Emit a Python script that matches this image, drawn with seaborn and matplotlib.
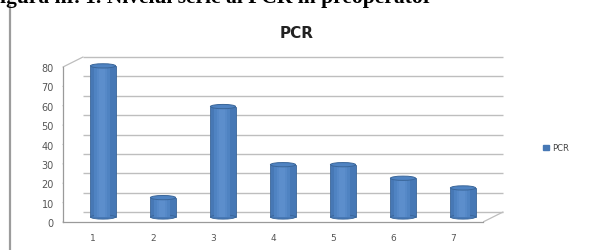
import matplotlib.pyplot as plt
import matplotlib.transforms as mtransforms
from matplotlib.patches import Ellipse
from matplotlib.lines import Line2D
import seaborn as sns

# values
categories = ["1", "2", "3", "4", "5", "6", "7"]
pcr_values = [78, 10, 57, 27, 27, 20, 15]
y_ticks = [0, 10, 20, 30, 40, 50, 60, 70, 80]
series_name = "PCR"
caption = "Figura nr. 1. Nivelul seric al PCR în preoperator"

sns.set_style("white")
plt.rcParams["font.family"] = ["DejaVu Sans"]

fig = plt.figure(figsize=(5.9, 2.51), dpi=100)
W, H = 590, 251
# front plane of the 3D box
ax = fig.add_axes([63 / W, (H - 223) / H, 420 / W, 155 / H])

bar_color = "#4778B5"
sns.barplot(x=categories, y=pcr_values, color=bar_color, width=0.42,
            saturation=1, edgecolor="#3A6699", linewidth=0.6, ax=ax)
ax.set_xlim(-0.5, 6.5)
ax.set_ylim(0, 80)

# depth offsets (pixels -> inches)
mid_off = mtransforms.ScaledTranslation(10 / 100, 5 / 100, fig.dpi_scale_trans)
back_off = mtransforms.ScaledTranslation(20 / 100, 10 / 100, fig.dpi_scale_trans)

bars = list(ax.patches)
for b in bars:
    b.set_transform(ax.transData + mid_off)
    b.set_clip_on(False)
    bx, bw, bh = b.get_x(), b.get_width(), b.get_height()
    cx = bx + bw / 2
    # soft highlight strips for a cylinder look
    for frac, col in [(0.62, "#4F83C2"), (0.42, "#5689C8"), (0.22, "#5C8ECC")]:
        hl = plt.Rectangle((cx - bw * frac / 2 - bw * 0.04, 0), bw * frac, bh, color=col,
                           lw=0, transform=ax.transData + mid_off, clip_on=False, zorder=3)
        ax.add_patch(hl)
    bottom = Ellipse((cx, 0), bw, 2.2, facecolor=bar_color, edgecolor="#3A6699",
                     lw=0.6, transform=ax.transData + mid_off, clip_on=False, zorder=2)
    top = Ellipse((cx, bh), bw, 2.2, facecolor="#4F83C2", edgecolor="#3A6699",
                  lw=0.7, transform=ax.transData + mid_off, clip_on=False, zorder=4)
    ax.add_patch(bottom)
    ax.add_patch(top)

# back wall gridlines
grid_color = "#BEBEBE"
ax.hlines(y_ticks, -0.5, 6.5, colors=grid_color, lw=1.0,
          transform=ax.transData + back_off, clip_on=False, zorder=0)

# side wall diagonals and floor edge, in pixel coordinates
inv = fig.transFigure.inverted()
def diag(x, y, color):
    p0 = ax.transData.transform((x, y))
    p1 = p0 + (20, 10)
    a, b = inv.transform(p0), inv.transform(p1)
    fig.add_artist(Line2D([a[0], b[0]], [a[1], b[1]], color=color, lw=0.9,
                          transform=fig.transFigure, zorder=0))

for yt in y_ticks:
    diag(-0.5, yt, grid_color)
diag(6.5, 0, grid_color)

# front axes styling
for s in ["top", "right"]:
    ax.spines[s].set_visible(False)
for s in ["left", "bottom"]:
    ax.spines[s].set_color("#9A9A9A")
    ax.spines[s].set_linewidth(0.9)
ax.set_yticks(y_ticks)
ax.set_xticks(range(len(categories)))
ax.set_xticklabels(categories)
ax.set_xticks([i - 0.5 for i in range(len(categories) + 1)], minor=True)
ax.tick_params(axis="x", which="major", length=0, pad=8, labelsize=6.5, labelcolor="#555555")
ax.tick_params(axis="x", which="minor", length=3.5, color="#9A9A9A", width=0.9, direction="out")
ax.tick_params(axis="y", length=3.5, color="#9A9A9A", width=0.9, labelsize=7,
               labelcolor="#555555", pad=3)
ax.set_xlabel("")
ax.set_ylabel("")
ax.grid(False)

# title, legend, caption, page border
fig.text(297 / W, 1 - 34 / H, "PCR", ha="center", va="center", fontsize=11,
         fontweight="bold", color="#222222")
lx = 543 / W
fig.patches.append(plt.Rectangle((lx, 1 - 151 / H), 6 / W, 5 / H, color=bar_color,
                                 transform=fig.transFigure, figure=fig))
fig.text(552 / W, 1 - 148.5 / H, series_name, ha="left", va="center", fontsize=6,
         color="#444444")
fig.text(-13 / W, 1 - 3 / H, caption, ha="left", va="baseline", fontsize=15.5,
         fontweight="bold", family="Liberation Serif", color="black")
fig.add_artist(Line2D([10 / W, 10 / W], [0, 1 - 7 / H], color="#9C9C9C", lw=1.6,
                      transform=fig.transFigure))

fig.savefig("out.png", dpi=100)
